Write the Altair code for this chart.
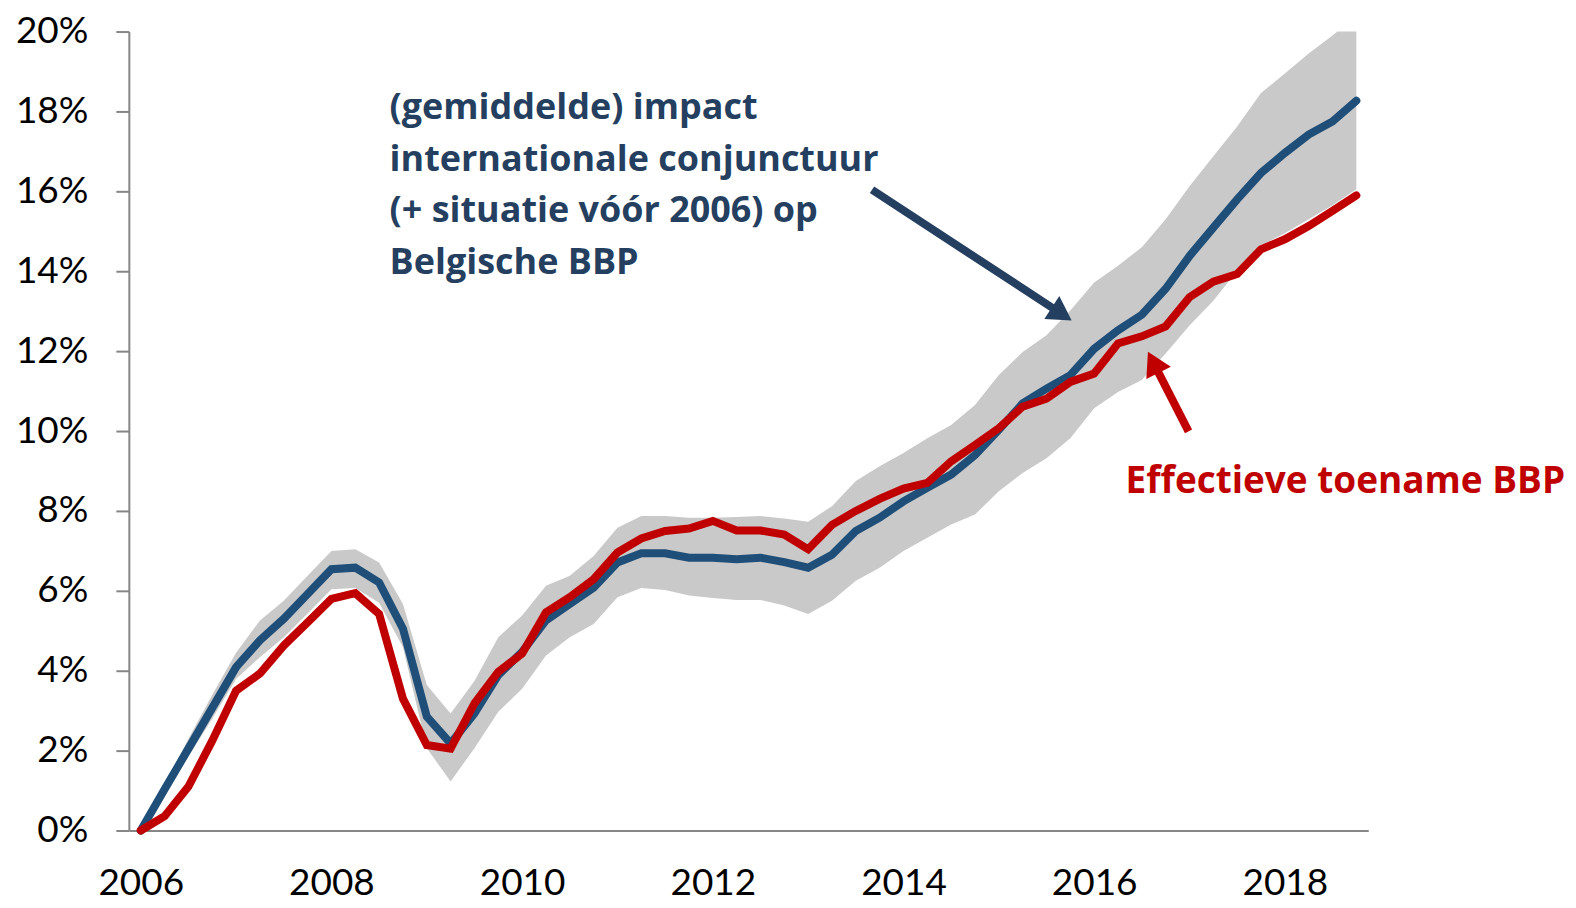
import altair as alt
import pandas as pd

# ---- data (percent change in Belgian GDP since 2006Q1) ----
years = list(range(2006, 2019))
quarters = [f"{y}Q{q}" for y in years for q in range(1, 5)]

impact = [0.00, 1.03, 2.05, 3.07, 4.09, 4.76, 5.30, 5.92, 6.54, 6.58,
          6.21, 5.05, 2.85, 2.18, 2.93, 3.89, 4.47, 5.26, 5.67, 6.08,
          6.71, 6.94, 6.94, 6.83, 6.83, 6.79, 6.83, 6.72, 6.58, 6.90,
          7.50, 7.83, 8.24, 8.58, 8.91, 9.40, 10.03, 10.69, 11.06, 11.40,
          12.06, 12.52, 12.91, 13.56, 14.38, 15.09, 15.80, 16.46, 16.96, 17.42,
          17.75, 18.27]

effectief = [0.00, 0.36, 1.10, 2.25, 3.50, 3.93, 4.63, 5.21, 5.80, 5.94,
             5.42, 3.30, 2.14, 2.05, 3.18, 3.97, 4.43, 5.46, 5.84, 6.29,
             6.96, 7.31, 7.50, 7.56, 7.75, 7.51, 7.51, 7.41, 7.04, 7.65,
             8.00, 8.30, 8.56, 8.70, 9.24, 9.65, 10.07, 10.61, 10.81, 11.23,
             11.44, 12.19, 12.37, 12.62, 13.35, 13.74, 13.93, 14.55, 14.80, 15.13,
             15.51, 15.90]

band_hi = [0.00, 1.15, 2.30, 3.40, 4.45, 5.26, 5.75, 6.38, 7.00, 7.04,
           6.71, 5.67, 3.64, 2.93, 3.74, 4.84, 5.38, 6.13, 6.38, 6.87,
           7.58, 7.87, 7.87, 7.83, 7.83, 7.85, 7.87, 7.81, 7.73, 8.12,
           8.75, 9.12, 9.45, 9.82, 10.15, 10.65, 11.40, 11.98, 12.40, 13.02,
           13.72, 14.14, 14.60, 15.30, 16.13, 16.88, 17.62, 18.46, 18.95, 19.45,
           19.90, 20.40]

band_lo = [0.00, 0.90, 1.85, 2.80, 3.80, 4.34, 4.84, 5.43, 6.04, 6.07,
           5.70, 4.59, 2.06, 1.23, 2.06, 2.97, 3.55, 4.38, 4.84, 5.17,
           5.84, 6.07, 6.02, 5.88, 5.82, 5.77, 5.77, 5.63, 5.42, 5.75,
           6.25, 6.58, 7.00, 7.33, 7.66, 7.91, 8.49, 8.95, 9.32, 9.82,
           10.57, 10.98, 11.28, 11.94, 12.64, 13.26, 14.01, 14.65, 14.95, 15.30,
           15.65, 16.05]

x_ticks = [2006, 2008, 2010, 2012, 2014, 2016, 2018]
y_ticks = [0, 2, 4, 6, 8, 10, 12, 14, 16, 18, 20]

label_blue = "(gemiddelde) impact\ninternationale conjunctuur\n(+ situatie vóór 2006) op\nBelgische BBP"
label_red = "Effectieve toename BBP"

# ---- styles ----
BLUE = "#1F4E79"
NAVY = "#243F60"
RED = "#C00000"
GREY = "#C9C9C9"
AXIS = "#868686"
FONT = "Lato"
ANN_FONT = "Open Sans"

t = [int(q[:4]) + (int(q[-1]) - 1) / 4 for q in quarters]
df = pd.DataFrame({"t": t, "impact": impact, "effectief": effectief,
                   "lo": band_lo, "hi": band_hi})

x_scale = alt.Scale(domain=[2005.875, 2018.875], nice=False, zero=False)
y_scale = alt.Scale(domain=[0, 20], nice=False)

x_axis = alt.Axis(values=x_ticks, format="d", ticks=False, tickSize=0, grid=False,
                  domainColor=AXIS, domainWidth=2, labelFont=FONT, labelFontSize=37,
                  labelColor="black", labelPadding=35, labelFlush=False, title=None)
y_axis = alt.Axis(values=y_ticks, labelExpr="datum.value + '%'", tickSize=13,
                  tickColor=AXIS, tickWidth=2, domainColor=AXIS, domainWidth=2,
                  labelFont=FONT, labelFontSize=37, labelColor="black",
                  labelPadding=28, grid=False, title=None)


def X(field):
    return alt.X(f"{field}:Q", scale=x_scale, axis=x_axis)


def Y(field):
    return alt.Y(f"{field}:Q", scale=y_scale, axis=y_axis)


base = alt.Chart(df)

band = base.mark_area(color=GREY, clip=True).encode(x=X("t"), y=Y("lo"), y2="hi:Q")
line_blue = base.mark_line(color=BLUE, strokeWidth=8, strokeCap="round",
                           strokeJoin="miter").encode(x=X("t"), y=Y("impact"))
line_red = base.mark_line(color=RED, strokeWidth=8, strokeCap="round",
                          strokeJoin="miter").encode(x=X("t"), y=Y("effectief"))

# annotation geometry (data coordinates)
arrows = pd.DataFrame({
    "x": [2013.67, 2016.99], "y": [16.04, 9.99],
    "x2": [2015.66, 2016.62], "y2": [12.93, 11.72],
    "c": [NAVY, RED], "angle": [123.2, 333.4],
})
arrow_lines = alt.Chart(arrows).mark_rule(strokeWidth=8).encode(
    x=X("x"), y=Y("y"), x2="x2:Q", y2="y2:Q",
    color=alt.Color("c:N", scale=None))
arrow_heads = alt.Chart(arrows).mark_point(shape="triangle-up", filled=True, size=750,
                                           opacity=1, strokeWidth=0).encode(
    x=X("x2"), y=Y("y2"), color=alt.Color("c:N", scale=None),
    angle=alt.Angle("angle:Q", scale=None))

text_blue = alt.Chart(pd.DataFrame({"x": [2008.61], "y": [17.80], "txt": [label_blue]})).mark_text(
    align="left", baseline="alphabetic", font=ANN_FONT, fontWeight="bold", fontSize=36,
    lineBreak="\n", lineHeight=51.6, color=NAVY).encode(x=X("x"), y=Y("y"), text="txt:N")
text_red = alt.Chart(pd.DataFrame({"x": [2016.33], "y": [8.44], "txt": [label_red]})).mark_text(
    align="left", baseline="alphabetic", font=ANN_FONT, fontWeight="bold", fontSize=37,
    color=RED).encode(x=X("x"), y=Y("y"), text="txt:N")

chart = alt.layer(band, line_blue, line_red, arrow_lines, arrow_heads,
                  text_blue, text_red).properties(
    width=1241, height=800,
    padding={"left": 121, "top": 23, "right": 200, "bottom": 72},
    autosize=alt.AutoSizeParams(type="none"),
    background="white",
).configure_view(stroke=None)

chart.save("out.html", embed_options={"renderer": "svg", "actions": False})
